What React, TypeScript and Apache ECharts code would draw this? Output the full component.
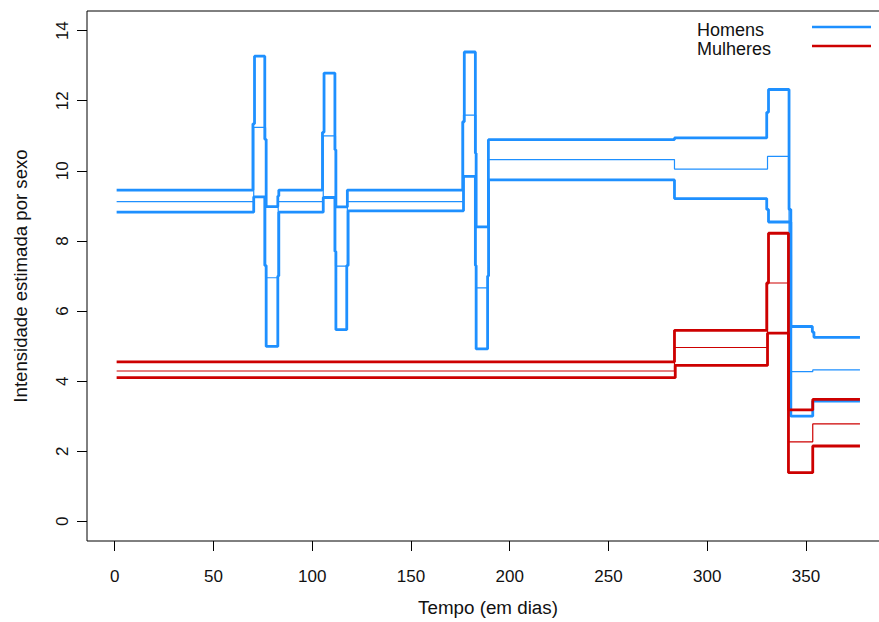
import React, { useEffect, useRef } from "react";
import * as echarts from "echarts";

// Step estimates over time: [day, value], each value holds until the next day listed.
const menUpper: [number, number][] = [
  [1, 9.45], [70, 11.34], [70.8, 13.27], [76, 10.9], [76.7, 8.98], [82.6, 9.28], [83.1, 9.45],
  [105.2, 11.1], [106, 12.79], [111.5, 10.6], [112, 8.97], [117.8, 9.45],
  [176.2, 11.4], [177, 13.39], [182.6, 10.5], [183, 8.4], [189.2, 10.89],
  [283.4, 10.94], [330.1, 11.67], [331, 12.32], [341.4, 8.9], [342.3, 5.56],
  [353.2, 5.4], [354, 5.25], [377.3, 5.25],
];
const menMid: [number, number][] = [
  [1, 9.12], [70.4, 11.24], [76.4, 6.95], [82.8, 9.12],
  [105.6, 11.0], [111.8, 7.28], [117.8, 9.12],
  [176.6, 11.59], [182.8, 6.66], [189.2, 10.32],
  [283.4, 10.05], [330.5, 10.41], [341.4, 4.27], [353.4, 4.32], [377.3, 4.32],
];
const menLower: [number, number][] = [
  [1, 8.82], [70.4, 9.26], [76, 7.3], [76.7, 4.99], [82.6, 7.0], [83.1, 8.82],
  [105.6, 9.24], [111.5, 7.7], [112, 5.47], [117.5, 7.3], [118.2, 8.86],
  [176.6, 9.84], [182.6, 7.3], [183, 4.92], [188.8, 7.0], [189.3, 9.74],
  [283.4, 9.21], [330.1, 8.9], [331, 8.54], [342.3, 3.0], [353.4, 3.43], [377.3, 3.43],
];
const womenUpper: [number, number][] = [
  [1, 4.55], [283.4, 5.45], [330.1, 6.8], [331, 8.22], [341.1, 3.18], [353.4, 3.48], [377.3, 3.48],
];
const womenMid: [number, number][] = [
  [1, 4.29], [283.4, 4.96], [330.5, 6.8], [341.1, 2.27], [353.4, 2.78], [377.3, 2.78],
];
const womenLower: [number, number][] = [
  [1, 4.1], [283.8, 4.45], [330.5, 5.37], [341.1, 1.39], [353.4, 2.15], [377.3, 2.15],
];

const xTicks = [0, 50, 100, 150, 200, 250, 300, 350];
const yTicks = [0, 2, 4, 6, 8, 10, 12, 14];
const legendLabels = ["Homens", "Mulheres"];

const BLUE = "#1E90FF";
const RED = "#CD0000";
const FONT = "'Liberation Sans', Arial, sans-serif";

function stepSeries(name: string, data: [number, number][], color: string, width: number) {
  return {
    name,
    type: "line",
    step: "end",
    data,
    showSymbol: false,
    symbol: "none",
    lineStyle: { color, width },
    emphasis: { disabled: true },
    z: 2,
  };
}

export default function App() {
  const ref = useRef<HTMLDivElement>(null);

  useEffect(() => {
    document.body.style.margin = "0";
    if (!ref.current) return;
    const chart = echarts.init(ref.current, null, { renderer: "svg" });
    chart.setOption({
      animation: false,
      backgroundColor: "#ffffff",
      textStyle: { fontFamily: FONT },
      grid: {
        left: 87,
        right: 0,
        top: 11,
        bottom: 81,
        show: true,
        borderColor: "#000",
        borderWidth: 1,
      },
      xAxis: {
        type: "value",
        min: -14,
        max: 392,
        name: "Tempo (em dias)",
        nameLocation: "middle",
        nameGap: 57,
        nameTextStyle: { fontSize: 18.8, color: "#111", fontFamily: FONT },
        axisLine: { show: false, onZero: false },
        axisTick: { show: true, length: 10, lineStyle: { color: "#000" }, customValues: xTicks },
        axisLabel: { customValues: xTicks, margin: 27, fontSize: 17, color: "#111", fontFamily: FONT },
        splitLine: { show: false },
      },
      yAxis: {
        type: "value",
        min: -0.56,
        max: 14.56,
        name: "Intensidade estimada por sexo",
        nameLocation: "middle",
        nameGap: 57,
        nameTextStyle: { fontSize: 18.6, color: "#111", fontFamily: FONT },
        axisLine: { show: false, onZero: false },
        axisTick: { show: true, length: 10, lineStyle: { color: "#000" }, customValues: yTicks },
        axisLabel: { customValues: yTicks, rotate: 90, margin: 16, fontSize: 17, color: "#111", fontFamily: FONT },
        splitLine: { show: false },
      },
      series: [
        stepSeries("Homens superior", menUpper, BLUE, 2.8),
        stepSeries("Homens", menMid, BLUE, 1.2),
        stepSeries("Homens inferior", menLower, BLUE, 2.8),
        stepSeries("Mulheres superior", womenUpper, RED, 2.8),
        stepSeries("Mulheres", womenMid, RED, 1.2),
        stepSeries("Mulheres inferior", womenLower, RED, 2.8),
      ],
      graphic: [
        {
          type: "text",
          left: 697,
          top: 21,
          style: { text: legendLabels[0], font: `18px ${FONT}`, fill: "#111" },
        },
        {
          type: "text",
          left: 697,
          top: 40,
          style: { text: legendLabels[1], font: `18px ${FONT}`, fill: "#111" },
        },
        {
          type: "line",
          shape: { x1: 812, y1: 27, x2: 871, y2: 27 },
          style: { stroke: BLUE, lineWidth: 2.6 },
        },
        {
          type: "line",
          shape: { x1: 812, y1: 46, x2: 871, y2: 46 },
          style: { stroke: RED, lineWidth: 2.6 },
        },
      ],
    });
    return () => chart.dispose();
  }, []);

  return (
    <div style={{ width: 879, height: 622, overflow: "hidden", position: "relative" }}>
      <div ref={ref} style={{ width: 889, height: 622 }} />
    </div>
  );
}
